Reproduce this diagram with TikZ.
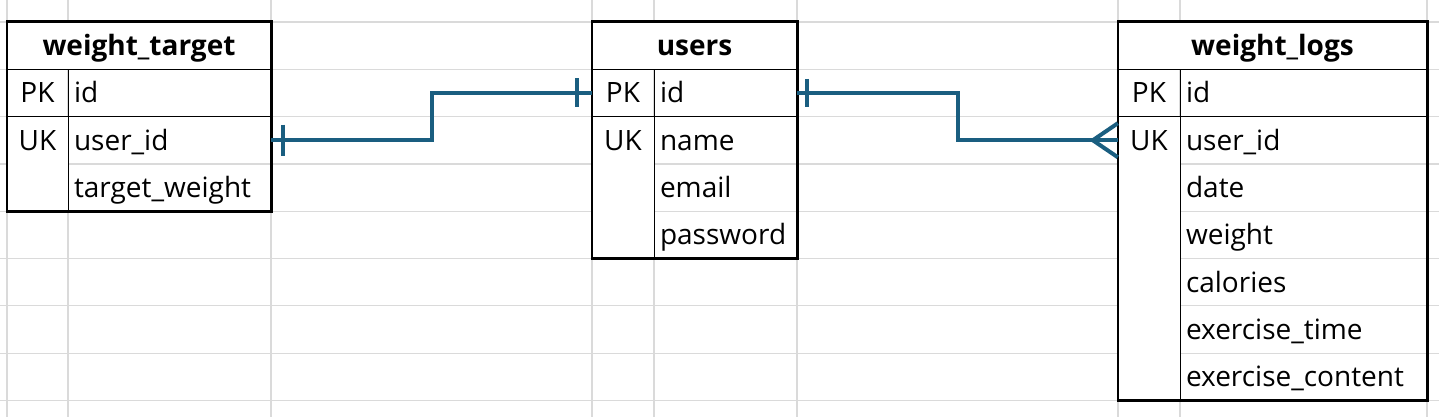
\documentclass[tikz,border=0pt]{standalone}
\usepackage{fontspec}
\setmainfont{Open Sans}
\usetikzlibrary{calc,positioning}
\definecolor{relblue}{RGB}{26,94,128}
\definecolor{gridgray}{RGB}{218,218,218}
\tikzset{
  >=stealth
}
\begin{document}
\begin{tikzpicture}[x=1pt,y=-1pt,
    hdrcell/.style={fill=white,minimum height=47.3pt,inner sep=0pt,text height=24pt,text depth=4pt,font=\fontsize{28}{32}\selectfont\bfseries},
    keycell/.style={minimum height=47.3pt,inner sep=0pt,text height=24pt,text depth=4pt,font=\fontsize{28}{32}\selectfont},
    fieldcell/.style={minimum height=47.3pt,inner ysep=0pt,inner xsep=6pt,text height=24pt,text depth=4pt,align=left,font=\fontsize{28}{32}\selectfont},
    tblframe/.style={draw=black,line width=2.6pt},
    tblline/.style={draw=black,line width=1.2pt},
    gridline/.style={draw=gridgray,line width=1.2pt},
    rel/.style={draw=relblue,line width=4pt}]
        \useasboundingbox (0,0) rectangle (1439,417);
        % sheet grid
        \foreach \gx in {7,68,271,592,654,797,1118,1180,1427}
            \draw[gridline] (\gx,0) -- (\gx,417);
        \foreach \gy in {22,69.3,116.6,163.9,211.2,258.5,305.8,353.1,400.4}
            \draw[gridline] (0,\gy) -- (1439,\gy);

        % weight_target
        \fill[white] (7,116.6) rectangle (68,211.2);
        \node[hdrcell,minimum width=264pt] (wtHead) at (139,45.65) {weight\_target};
        \node[keycell,minimum width=61pt] (wtPK) at (37.5,92.95) {PK};
        \node[keycell,minimum width=61pt] (wtUK) at (37.5,140.25) {UK};
        \node[fieldcell,text width=191pt] (wtId) at (169.5,92.95) {id};
        \node[fieldcell,text width=191pt] (wtUserId) at (169.5,140.25) {user\_id};
        \node[fieldcell,text width=191pt] (wtTarget) at (169.5,187.55) {target\_weight};
        \draw[tblline] (wtHead.south west) -- (wtHead.south east);
        \draw[tblline] (wtPK.south west) -- (wtId.south east);
        \draw[tblline] (wtPK.north east) -- (wtPK.north east |- wtTarget.south);
        \draw[tblframe] (wtHead.north west) rectangle (wtTarget.south east);

        % users
        \fill[white] (592,116.6) rectangle (654,258.5);
        \node[hdrcell,minimum width=205pt] (uHead) at (694.5,45.65) {users};
        \node[keycell,minimum width=62pt] (uPK) at (623,92.95) {PK};
        \node[keycell,minimum width=62pt] (uUK) at (623,140.25) {UK};
        \node[fieldcell,text width=131pt] (uId) at (725.5,92.95) {id};
        \node[fieldcell,text width=131pt] (uName) at (725.5,140.25) {name};
        \node[fieldcell,text width=131pt] (uEmail) at (725.5,187.55) {email};
        \node[fieldcell,text width=131pt] (uPass) at (725.5,234.85) {password};
        \draw[tblline] (uHead.south west) -- (uHead.south east);
        \draw[tblline] (uPK.south west) -- (uId.south east);
        \draw[tblline] (uPK.north east) -- (uPK.north east |- uPass.south);
        \draw[tblframe] (uHead.north west) rectangle (uPass.south east);

        % weight_logs
        \fill[white] (1118,116.6) rectangle (1180,400.4);
        \node[hdrcell,minimum width=309pt] (wlHead) at (1272.5,45.65) {weight\_logs};
        \node[keycell,minimum width=62pt] (wlPK) at (1149,92.95) {PK};
        \node[keycell,minimum width=62pt] (wlUK) at (1149,140.25) {UK};
        \node[fieldcell,text width=235pt] (wlId) at (1303.5,92.95) {id};
        \node[fieldcell,text width=235pt] (wlUserId) at (1303.5,140.25) {user\_id};
        \node[fieldcell,text width=235pt] (wlDate) at (1303.5,187.55) {date};
        \node[fieldcell,text width=235pt] (wlWeight) at (1303.5,234.85) {weight};
        \node[fieldcell,text width=235pt] (wlCal) at (1303.5,282.15) {calories};
        \node[fieldcell,text width=235pt] (wlExTime) at (1303.5,329.45) {exercise\_time};
        \node[fieldcell,text width=235pt] (wlExCont) at (1303.5,376.75) {exercise\_content};
        \draw[tblline] (wlHead.south west) -- (wlHead.south east);
        \draw[tblline] (wlPK.south west) -- (wlId.south east);
        \draw[tblline] (wlPK.north east) -- (wlPK.north east |- wlExCont.south);
        \draw[tblframe] (wlHead.north west) rectangle (wlExCont.south east);

        % relations
        \draw[rel] (wtUserId.east) -| ($(wtUserId.east)!0.5!(uPK.west)$) |- (uPK.west);
        \draw[rel] ([xshift=12pt]wtUserId.east) ++(0,-15.5) -- ++(0,31);
        \draw[rel] ([xshift=-15pt]uPK.west) ++(0,-14.5) -- ++(0,29);

        \draw[rel] (uId.east) -| ($(uId.east)!0.5!(wlUK.west)$) |- (wlUK.west);
        \draw[rel] ([xshift=10pt]uId.east) ++(0,-14) -- ++(0,28);
        \draw[rel] ([yshift=17pt]wlUK.west) -- ([xshift=-25pt]wlUK.west) -- ([yshift=-17pt]wlUK.west);
\end{tikzpicture}
\end{document}
